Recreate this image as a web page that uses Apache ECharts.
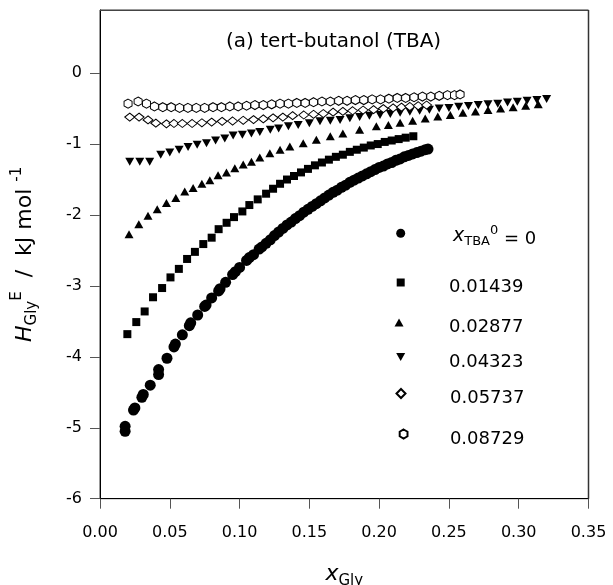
<!DOCTYPE html>
<html>
<head>
<meta charset="utf-8">
<script src="https://cdn.jsdelivr.net/npm/echarts@6/dist/echarts.min.js"></script>
<style>html,body{margin:0;padding:0;background:#fff;}#c{width:613px;height:585px;}</style>
</head>
<body>
<div id="c"></div>
<script>
// ---- data ----
const seriesNames = ['0', '0.01439', '0.02877', '0.04323', '0.05737', '0.08729'];
const xTicks = [0, 0.05, 0.10, 0.15, 0.20, 0.25, 0.30, 0.35];
const yTicks = [-6, -5, -4, -3, -2, -1, 0];

const s0x = [0.018,0.018,0.024,0.025,0.030,0.031,0.036,0.042,0.042,0.048,0.053,0.054,0.059,0.064,0.065,0.070,0.075,0.076,0.080,0.085,0.086,0.090,0.095,0.097,0.100,0.105,0.107,0.110,0.114,0.116,0.119,0.122,0.125,0.128,0.131,0.134,0.137,0.140,0.143,0.146,0.149,0.152,0.155,0.158,0.161,0.164,0.167,0.170,0.173,0.176,0.179,0.182,0.185,0.188,0.191,0.194,0.197,0.200,0.203,0.206,0.209,0.212,0.215,0.218,0.221,0.224,0.227,0.230,0.233,0.235];
const s0y = [-4.98,-5.05,-4.75,-4.72,-4.57,-4.53,-4.40,-4.18,-4.25,-4.02,-3.86,-3.82,-3.69,-3.56,-3.52,-3.41,-3.29,-3.27,-3.17,-3.07,-3.04,-2.95,-2.84,-2.80,-2.74,-2.64,-2.60,-2.56,-2.48,-2.45,-2.40,-2.35,-2.29,-2.24,-2.19,-2.14,-2.10,-2.05,-2.01,-1.96,-1.92,-1.88,-1.84,-1.80,-1.76,-1.72,-1.68,-1.65,-1.61,-1.58,-1.54,-1.51,-1.48,-1.45,-1.42,-1.39,-1.36,-1.33,-1.31,-1.28,-1.26,-1.23,-1.21,-1.18,-1.16,-1.14,-1.12,-1.10,-1.08,-1.07];

const s1x = [0.0196,0.026,0.032,0.038,0.0445,0.0505,0.0565,0.0624,0.068,0.074,0.080,0.085,0.0907,0.096,0.102,0.107,0.113,0.119,0.124,0.129,0.134,0.139,0.144,0.149,0.154,0.159,0.164,0.169,0.174,0.179,0.184,0.189,0.194,0.199,0.204,0.209,0.214,0.219,0.2245];
const s1y = [-3.68,-3.51,-3.36,-3.16,-3.03,-2.88,-2.76,-2.62,-2.52,-2.41,-2.32,-2.20,-2.11,-2.03,-1.95,-1.86,-1.78,-1.70,-1.63,-1.56,-1.50,-1.45,-1.40,-1.35,-1.30,-1.26,-1.22,-1.18,-1.15,-1.11,-1.08,-1.05,-1.02,-1.00,-0.97,-0.95,-0.93,-0.91,-0.89];

const s2x = [0.0208,0.0278,0.0344,0.041,0.0476,0.0543,0.0607,0.0667,0.073,0.0787,0.0846,0.0906,0.0966,0.1026,0.1085,0.1145,0.1217,0.129,0.136,0.1456,0.155,0.165,0.174,0.186,0.198,0.2066,0.215,0.224,0.233,0.242,0.251,0.260,0.269,0.278,0.287,0.296,0.305,0.314];
const s2y = [-2.27,-2.13,-2.01,-1.92,-1.83,-1.76,-1.67,-1.62,-1.56,-1.51,-1.44,-1.40,-1.34,-1.29,-1.25,-1.19,-1.13,-1.08,-1.035,-0.99,-0.94,-0.89,-0.85,-0.80,-0.75,-0.73,-0.70,-0.67,-0.64,-0.61,-0.59,-0.56,-0.54,-0.52,-0.50,-0.48,-0.46,-0.44];

const s3x = [0.0213,0.0285,0.0356,0.0435,0.050,0.0567,0.0631,0.0696,0.0763,0.0828,0.0894,0.0954,0.102,0.1085,0.1145,0.122,0.128,0.135,0.142,0.150,0.1576,0.165,0.172,0.179,0.186,0.193,0.2006,0.208,0.215,0.222,0.229,0.236,0.243,0.250,0.257,0.264,0.271,0.278,0.285,0.292,0.299,0.306,0.313,0.320];
const s3y = [-1.25,-1.25,-1.25,-1.15,-1.12,-1.08,-1.04,-1.01,-0.99,-0.95,-0.92,-0.88,-0.87,-0.85,-0.83,-0.80,-0.78,-0.75,-0.73,-0.705,-0.68,-0.67,-0.66,-0.635,-0.62,-0.60,-0.59,-0.575,-0.56,-0.545,-0.53,-0.515,-0.50,-0.49,-0.475,-0.465,-0.45,-0.44,-0.43,-0.415,-0.405,-0.39,-0.38,-0.365];

const s4x = [0.0213,0.028,0.0344,0.040,0.0476,0.053,0.059,0.066,0.073,0.080,0.0875,0.095,0.1026,0.110,0.117,0.124,0.131,0.138,0.146,0.153,0.160,0.167,0.174,0.181,0.1885,0.196,0.203,0.210,0.216,0.222,0.228,0.234];
const s4y = [-0.62,-0.62,-0.66,-0.705,-0.715,-0.71,-0.71,-0.71,-0.70,-0.69,-0.68,-0.675,-0.665,-0.655,-0.645,-0.63,-0.62,-0.60,-0.59,-0.58,-0.57,-0.55,-0.54,-0.53,-0.52,-0.515,-0.50,-0.49,-0.48,-0.47,-0.46,-0.45];

const s5x = [0.0201,0.0273,0.0333,0.039,0.045,0.051,0.057,0.063,0.069,0.075,0.081,0.087,0.093,0.099,0.105,0.111,0.117,0.123,0.129,0.135,0.141,0.147,0.153,0.159,0.165,0.171,0.177,0.183,0.189,0.195,0.201,0.207,0.213,0.219,0.225,0.231,0.237,0.243,0.249,0.254,0.258];
const s5y = [-0.43,-0.40,-0.43,-0.47,-0.48,-0.48,-0.49,-0.49,-0.49,-0.49,-0.48,-0.48,-0.47,-0.47,-0.46,-0.45,-0.45,-0.44,-0.43,-0.43,-0.42,-0.42,-0.41,-0.40,-0.40,-0.39,-0.39,-0.38,-0.38,-0.37,-0.37,-0.36,-0.35,-0.35,-0.34,-0.33,-0.33,-0.32,-0.31,-0.31,-0.30];

// ---- chart ----
const FONT = 'DejaVu Sans';
const xs = [s0x, s1x, s2x, s3x, s4x, s5x];
const ys = [s0y, s1y, s2y, s3y, s4y, s5y];
const pair = (a, b) => a.map((v, i) => [v, b[i]]);

const downTri = 'path://M0,0 L10,0 L5,8.66 Z';
const upTri = 'path://M5,0 L10,8.66 L0,8.66 Z';
const hexagon = 'path://M5,0 L9.33,2.5 L9.33,7.5 L5,10 L0.67,7.5 L0.67,2.5 Z';

const marks = [
  {symbol: 'circle', size: 11, fill: '#000', lw: 9, lh: 9, cx: 400.7},
  {symbol: 'rect', size: 8, fill: '#000', lw: 8, lh: 8, cx: 400.7},
  {symbol: upTri, size: [9, 8], fill: '#000', lw: 9, lh: 8, cx: 399},
  {symbol: downTri, size: [9, 8], fill: '#000', lw: 9, lh: 8, cx: 400.7},
  {symbol: 'diamond', size: [10, 8], fill: '#fff', lw: 9, lh: 9, cx: 400},
  {symbol: hexagon, size: [8, 9], fill: '#fff', lw: 8, lh: 9, cx: 402.7}
];

const series = seriesNames.map((n, i) => ({
  name: n,
  type: 'scatter',
  data: pair(xs[i], ys[i]),
  symbol: marks[i].symbol,
  symbolSize: marks[i].size,
  itemStyle: {color: marks[i].fill, borderColor: '#000', borderWidth: marks[i].fill === '#fff' ? 1 : 0, opacity: 1},
  emphasis: {disabled: true},
  z: 2 + i
}));

const legendTops = [218.3, 268.5, 308.5, 343, 379.5, 420];
const legends = seriesNames.map((n, i) => {
  const m = marks[i];
  const left = m.cx - m.lw / 2;
  const textStart = i === 0 ? 453 : 449;
  const padL = textStart - (left + m.lw + 5);
  return {
    data: [{name: n, icon: m.symbol}],
    left: left,
    top: legendTops[i],
    padding: 0,
    itemWidth: m.lw,
    itemHeight: m.lh,
    selectedMode: false,
    formatter: i === 0 ? '{x|x}{s|TBA}{p|0}{t| = 0}' : '{n|' + n + '}',
    textStyle: {
      fontFamily: FONT, fontSize: 18, color: '#000',
      rich: {
        n: {fontFamily: FONT, fontSize: 18, color: '#000', lineHeight: 22, padding: [10, 0, 0, padL]},
        x: {fontFamily: FONT, fontSize: 19, fontStyle: 'italic', color: '#000', lineHeight: 30, padding: [6, 0, 0, padL], verticalAlign: 'middle'},
        s: {fontFamily: FONT, fontSize: 13, color: '#000', lineHeight: 14, verticalAlign: 'bottom'},
        p: {fontFamily: FONT, fontSize: 13, color: '#000', lineHeight: 14, padding: [6, 0, 0, 0], verticalAlign: 'top'},
        t: {fontFamily: FONT, fontSize: 18, color: '#000', lineHeight: 30, verticalAlign: 'bottom'}
      }
    }
  };
});

const chart = echarts.init(document.getElementById('c'), null, {renderer: 'canvas'});
chart.setOption({
  animation: false,
  backgroundColor: '#fff',
  title: {
    text: '(a) tert-butanol (TBA)',
    left: 226, top: 32, padding: 0,
    textStyle: {fontFamily: FONT, fontSize: 20, fontWeight: 'normal', color: '#000'}
  },
  grid: {left: 100, right: 24.5, top: 10, bottom: 86.3, show: true, borderColor: '#333', borderWidth: 1, backgroundColor: 'transparent', outerBoundsMode: 'none'},
  legend: legends,
  xAxis: {
    type: 'value', min: 0, max: 0.35, interval: 0.05,
    axisLine: {show: true, onZero: false, lineStyle: {color: '#000', width: 1}},
    axisTick: {show: true, inside: false, length: 10, lineStyle: {color: '#555'}},
    splitLine: {show: false},
    axisLabel: {fontFamily: FONT, fontSize: 16, color: '#000', margin: 26, formatter: v => v.toFixed(2)},
    name: '{i|x}{s|Gly}',
    nameLocation: 'middle', nameGap: 62,
    nameTextStyle: {
      rich: {
        i: {fontFamily: FONT, fontSize: 22, fontStyle: 'italic', color: '#000', lineHeight: 28, verticalAlign: 'middle'},
        s: {fontFamily: FONT, fontSize: 15, color: '#000', lineHeight: 14, verticalAlign: 'bottom'}
      }
    }
  },
  yAxis: {
    type: 'value', min: -6, max: 0.89, interval: 1,
    axisLine: {show: true, onZero: false, lineStyle: {color: '#000', width: 1}},
    axisTick: {show: true, inside: false, length: 10, customValues: yTicks, lineStyle: {color: '#555'}},
    splitLine: {show: false},
    axisLabel: {fontFamily: FONT, fontSize: 16, color: '#000', margin: 18, customValues: yTicks},
    name: '{i|H}{s|Gly}{p|E}{t|  /  kJ mol }{p|-1}',
    nameLocation: 'middle', nameGap: 60, nameRotate: 90,
    nameTextStyle: {
      rich: {
        i: {fontFamily: FONT, fontSize: 22, fontStyle: 'italic', color: '#000', lineHeight: 30, verticalAlign: 'middle'},
        s: {fontFamily: FONT, fontSize: 15, color: '#000', lineHeight: 14, verticalAlign: 'bottom'},
        p: {fontFamily: FONT, fontSize: 15, color: '#000', lineHeight: 14, verticalAlign: 'top'},
        t: {fontFamily: FONT, fontSize: 22, color: '#000', lineHeight: 30, verticalAlign: 'middle'}
      }
    }
  },
  series: series
});

// frame (top and right edges) taken from the grid's own layout
const r = chart.getModel().getComponent('grid').coordinateSystem.getRect();
chart.setOption({
  graphic: [
    {type: 'line', z: 10, shape: {x1: r.x, y1: r.y + 0.5, x2: r.x + r.width, y2: r.y + 0.5}, style: {stroke: '#444', lineWidth: 1}},
    {type: 'line', z: 10, shape: {x1: r.x + r.width, y1: r.y, x2: r.x + r.width, y2: r.y + r.height}, style: {stroke: '#333', lineWidth: 1.5}}
  ]
});
</script>
</body>
</html>
